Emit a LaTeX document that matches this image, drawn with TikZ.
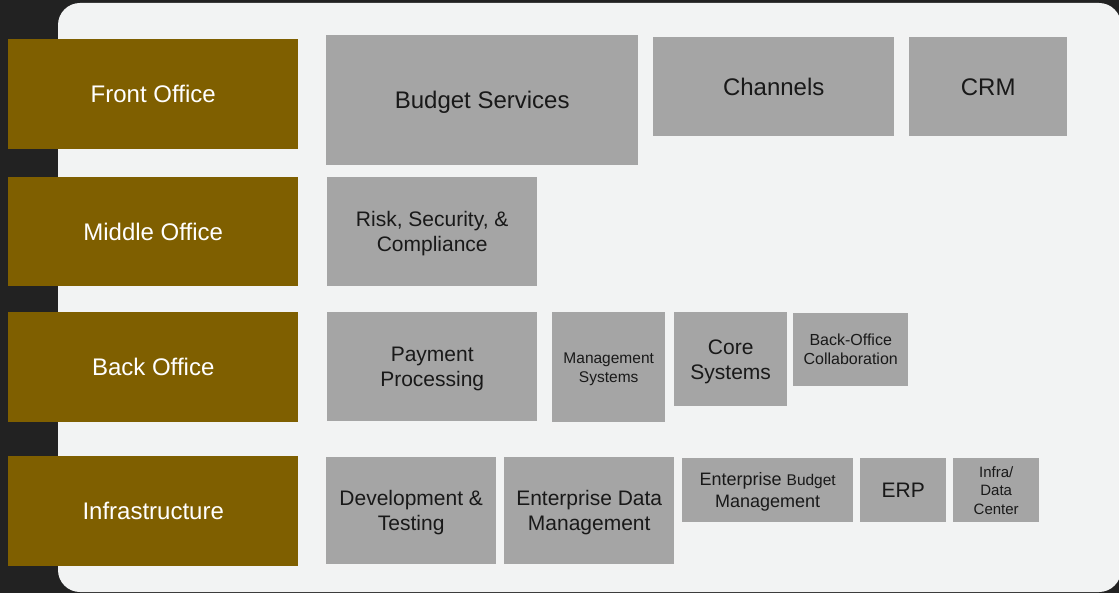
\documentclass[tikz,border=0pt]{standalone}
\usepackage{fontspec}
\setmainfont{Liberation Sans}
\usepackage{tikz}
\definecolor{office-brown}{HTML}{7F5F00}
\definecolor{block-gray}{HTML}{A5A5A5}
\definecolor{panel-gray}{HTML}{F2F3F3}
\definecolor{back-dark}{HTML}{222222}

\begin{document}
\begin{tikzpicture}[x=1pt, y=-1pt,
	office/.style={fill=office-brown, text=white, inner sep=0pt, text depth=0pt, anchor=north west, minimum width=290pt, font=\fontsize{24}{29}\selectfont},
	block/.style={fill=block-gray, text=black!90, inner sep=0pt, text depth=0pt, anchor=north west, align=center}]
							\useasboundingbox (0,0) rectangle (1119,593);
							\fill[back-dark] (0,0) rectangle (1119,593);
							\fill[panel-gray, rounded corners=22pt] (58,3) rectangle (1121,592);
							% offices
							\node[office, minimum height=110pt] (front) at (8,39) {Front Office};
							\node[office, minimum height=109pt] (middle) at (8,177) {Middle Office};
							\node[office, minimum height=110pt] (back) at (8,312) {Back Office};
							\node[office, minimum height=110pt] (infra) at (8,456) {Infrastructure};
							% front office
							\node[block, minimum width=312pt, minimum height=130pt, font=\fontsize{24}{29}\selectfont] (budget) at (326,35) {Budget Services};
							\node[block, minimum width=241pt, minimum height=99pt, font=\fontsize{24}{29}\selectfont] (channels) at (653,37) {Channels};
							\node[block, minimum width=158pt, minimum height=99pt, font=\fontsize{24}{29}\selectfont] (crm) at (909,37) {CRM};
							% middle office
							\node[block, minimum width=210pt, minimum height=109pt, font=\fontsize{21}{25}\selectfont] (risk) at (327,177) {Risk, Security, \&\\Compliance};
							% back office
							\node[block, minimum width=210pt, minimum height=109pt, font=\fontsize{21}{25}\selectfont] (payment) at (327,312) {Payment\\Processing};
							\node[block, minimum width=113pt, minimum height=110pt, font=\fontsize{15.5}{19}\selectfont] (mgmt) at (552,312) {Management\\Systems};
							\node[block, minimum width=113pt, minimum height=94pt, font=\fontsize{21}{25}\selectfont] (core) at (674,312) {Core\\Systems};
							\node[block, minimum width=115pt, minimum height=73pt, font=\fontsize{16}{19}\selectfont] (collab) at (793,313) {Back-Office\\Collaboration};
							% infrastructure
							\node[block, minimum width=170pt, minimum height=107pt, font=\fontsize{21}{25}\selectfont] (devtest) at (326,457) {Development \&\\Testing};
							\node[block, minimum width=170pt, minimum height=107pt, font=\fontsize{21}{25}\selectfont] (edm) at (504,457) {Enterprise Data\\Management};
							\node[block, minimum width=171pt, minimum height=64pt, font=\fontsize{18}{22}\selectfont] (ebm) at (682,458) {Enterprise {\fontsize{15.5}{22}\selectfont Budget}\\Management};
							\node[block, minimum width=86pt, minimum height=64pt, font=\fontsize{21}{25}\selectfont] (erp) at (860,458) {ERP};
							\node[block, minimum width=86pt, minimum height=64pt, font=\fontsize{15}{18.5}\selectfont] (datacenter) at (953,458) {Infra/\\Data\\Center};
						\end{tikzpicture}
\end{document}
